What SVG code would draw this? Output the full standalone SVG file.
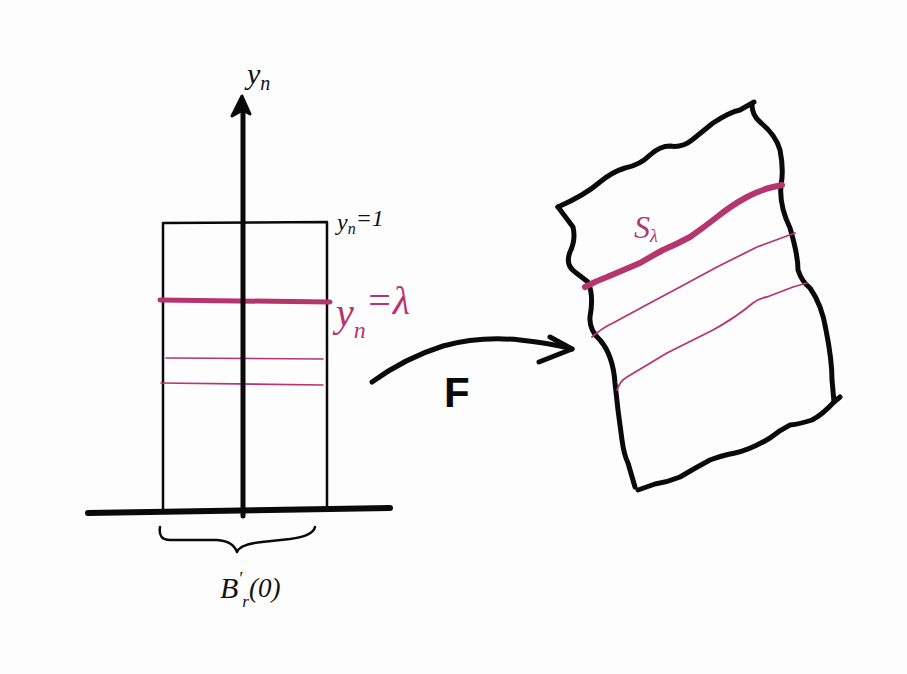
<svg xmlns="http://www.w3.org/2000/svg" width="907" height="674" viewBox="0 0 907 674">
<style>
.ink{fill:none;stroke:#0a0a0a;stroke-linecap:round;stroke-linejoin:round}
.mag{fill:none;stroke:#b5356e;stroke-linecap:round;stroke-linejoin:round}
.lbl{font-family:"Liberation Serif",serif;font-style:italic;fill:#111}
.mlbl{font-family:"Liberation Serif",serif;font-style:italic;fill:#b5356e}
</style>
<rect width="907" height="674" fill="#fdfdfd"/>
<g id="domain">
  <path class="ink" stroke-width="2.5" d="M163 510 L163 223 L327 222 L327 510"/>
  <path class="mag" stroke-width="5" d="M160 300 L330 302"/>
  <path class="mag" stroke-width="1.6" d="M166 358 L323 359"/>
  <path class="mag" stroke-width="1.6" d="M161 383 L323 385"/>
  <path class="ink" stroke-width="6" d="M88 513 L390 508"/>
  <path class="ink" stroke-width="5" d="M243 516 L243 108"/>
  <path d="M242 96 L232 116 L243 110 L250 114 Z" fill="#0a0a0a" stroke="#0a0a0a" stroke-width="3" stroke-linejoin="round"/>
  <text class="lbl" x="247" y="84" font-size="30">y<tspan font-size="20" dy="6">n</tspan></text>
  <text class="lbl" x="337" y="230" font-size="24">y<tspan font-size="16" dy="4">n</tspan><tspan dy="-8">=1</tspan></text>
  <text class="mlbl" x="336" y="326" font-size="40">y<tspan font-size="24" dy="12">n</tspan><tspan dy="-24">=λ</tspan></text>
  <path class="ink" stroke-width="2.5" d="M160 527 Q158 540 170 540 L217 540 Q233 541 237 552 Q240 544 262 542 L290 539 Q313 536 315 527"/>
  <text class="lbl" x="220" y="598" font-size="30">B<tspan font-size="18" dy="-13">′</tspan><tspan font-size="17" dy="22">r</tspan><tspan font-size="27" dy="-10">(0)</tspan></text>
</g>
<g id="image">
  <path class="ink" stroke-width="5" d="M558 207 L573 227 Q576 240 570 252 Q565 265 575 272 L588 282 Q594 295 590 317 Q589 330 600 340 Q613 355 615 383 L618 410 L622 440 Q624 455 628 463 L635 487"/>
  <path class="ink" stroke-width="5" d="M558 207 Q585 195 600 182 Q612 172 625 168 Q640 165 650 155 Q660 146 670 146 Q682 148 692 140 L713 123 Q730 112 740 110 L754 102"/>
  <path class="ink" stroke-width="5" d="M752 105 Q752 115 760 122 Q776 135 780 150 Q784 170 781 185 Q779 205 790 228 Q798 255 798 270 Q802 282 810 288 Q822 305 826 330 Q832 360 832 380 L834 402 L840 397"/>
  <path class="ink" stroke-width="5" d="M834 402 Q822 415 812 420 Q800 424 790 425 Q780 430 770 438 Q750 450 735 453 Q720 456 710 460 Q695 468 680 477 Q668 482 655 484 L638 490"/>
  <path class="mag" stroke-width="6" d="M585 287 Q596 281 607 277 L640 263 Q652 256 663 250 Q677 244 690 237 Q703 228 717 217 Q732 205 747 197 Q760 190 773 187 L782 185"/>
  <path class="mag" stroke-width="1.8" d="M592 337 Q602 328 613 323 L650 303 L680 287 L717 267 L757 247 L795 233"/>
  <path class="mag" stroke-width="1.8" d="M617 390 Q620 381 627 377 Q647 365 667 353 L713 330 Q735 318 753 303 Q760 298 767 297 L793 287 L807 283"/>
  <text class="mlbl" x="634" y="238" font-size="32">S<tspan font-size="18" dy="4">λ</tspan></text>
</g>
<g id="connectors">
  <path class="ink" stroke-width="5" d="M372 382 Q405 358 443 346 Q480 336 520 340 Q550 343 572 349"/>
  <path class="ink" stroke-width="5" d="M550 337 L572 349 L539 362"/>
  <text x="444" y="407" font-family="Liberation Sans, sans-serif" font-weight="bold" font-size="42" fill="#0a0a0a">F</text>
</g>
</svg>
